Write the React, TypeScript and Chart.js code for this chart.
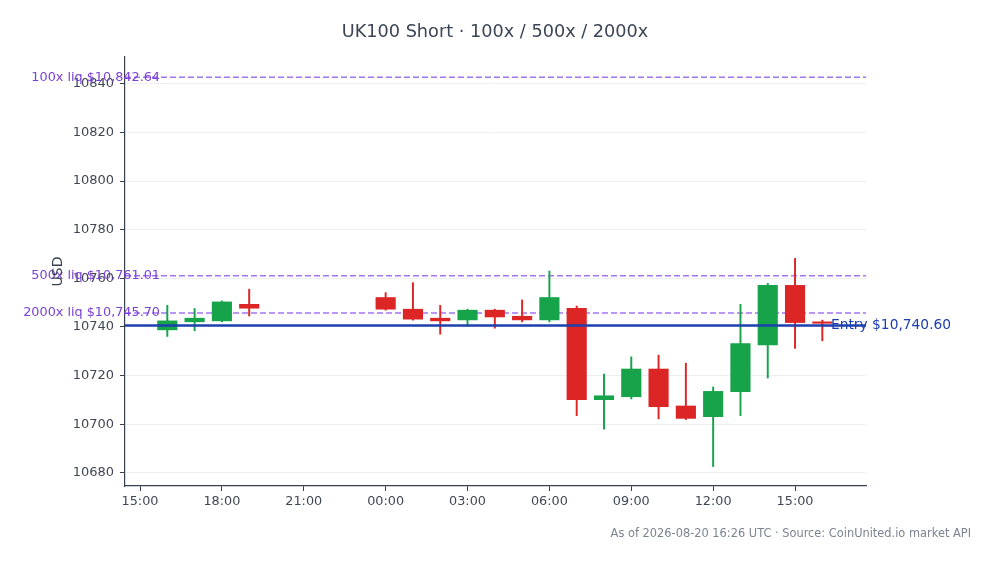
import { useEffect, useRef } from "react"
import { Chart, registerables } from "chart.js"

Chart.register(...registerables)

// hours since 2026-08-19 00:00 UTC
const hours = [16, 17, 18, 19, 24, 25, 26, 27, 28, 29, 30, 31, 32, 33, 34, 35, 36, 37, 38, 39, 40]
const opens = [10738.8, 10742.1, 10742.5, 10749.3, 10752.1, 10747.3, 10743.6, 10742.9, 10746.9, 10744.4, 10742.9, 10747.7, 10710.1, 10711.3, 10722.7, 10707.5, 10703.1, 10713.4, 10732.6, 10757.1, 10742.1]
const highs = [10748.9, 10747.6, 10750.7, 10755.5, 10754.1, 10758.2, 10748.9, 10747.3, 10747.3, 10751.1, 10763.0, 10748.6, 10720.6, 10727.7, 10728.4, 10725.1, 10715.3, 10749.3, 10757.9, 10768.2, 10742.8]
const lows = [10736.1, 10738.4, 10742.1, 10744.5, 10746.9, 10742.8, 10737.0, 10740.4, 10739.5, 10742.1, 10742.1, 10703.5, 10698.0, 10710.4, 10702.2, 10701.9, 10682.6, 10703.5, 10719.0, 10731.2, 10734.3]
const closes = [10742.5, 10743.6, 10750.3, 10747.7, 10747.3, 10743.2, 10742.5, 10746.9, 10744.1, 10742.9, 10752.1, 10710.1, 10711.7, 10722.7, 10707.2, 10702.4, 10713.5, 10733.2, 10757.1, 10741.8, 10741.5]

const entryPrice = 10740.6
const liqLabels = ["100x", "500x", "2000x"]
const liqPrices = [10842.64, 10761.01, 10745.7]

const yTicks = [10680, 10700, 10720, 10740, 10760, 10780, 10800, 10820, 10840]
const xTicks = [15, 18, 21, 24, 27, 30, 33, 36, 39]

const X_MIN = 14.45
const X_MAX = 41.6
const Y_MIN = 10674.6
const Y_MAX = 10851

const UP = "#16a34a"
const DOWN = "#dc2626"
const LIQ = "#7a3fd6"
const ENTRY = "#1e40af"
const FONT = "'DejaVu Sans', sans-serif"

const money = (v: number) =>
  "$" + v.toLocaleString("en-US", { minimumFractionDigits: 2, maximumFractionDigits: 2 })

const overlayText = {
  id: "overlayText",
  afterDatasetsDraw(chart: any) {
    const { ctx, chartArea, scales } = chart
    const y = scales.y
    ctx.save()
    ctx.textBaseline = "middle"

    // liquidation labels
    ctx.font = `12.8px ${FONT}`
    ctx.fillStyle = LIQ
    ctx.textAlign = "right"
    liqPrices.forEach((p, i) => {
      ctx.fillText(`${liqLabels[i]} liq ${money(p)}`, chartArea.left + 35, y.getPixelForValue(p))
    })

    // entry label
    ctx.font = `13.8px ${FONT}`
    ctx.fillStyle = ENTRY
    ctx.textAlign = "left"
    ctx.fillText(`Entry ${money(entryPrice)}`, chartArea.right - 35, y.getPixelForValue(entryPrice))
    ctx.restore()
  },
  afterDraw(chart: any) {
    const { ctx, chartArea } = chart
    ctx.save()
    ctx.textBaseline = "middle"
    ctx.textAlign = "center"
    ctx.font = `17.7px ${FONT}`
    ctx.fillStyle = "#3b4556"
    ctx.fillText("UK100 Short · 100x / 500x / 2000x", chart.width / 2 - 2, 32)

    ctx.font = `11.4px ${FONT}`
    ctx.fillStyle = "#7b8491"
    ctx.textAlign = "right"
    ctx.fillText("As of 2026-08-20 16:26 UTC · Source: CoinUnited.io market API", 971, 534)

    ctx.translate(58, (chartArea.top + chartArea.bottom) / 2)
    ctx.rotate(-Math.PI / 2)
    ctx.textAlign = "center"
    ctx.font = `14px ${FONT}`
    ctx.fillStyle = "#374151"
    ctx.fillText("USD", 0, 0)
    ctx.restore()
  },
}

export default function App() {
  const canvasRef = useRef<HTMLCanvasElement>(null)
  const chartRef = useRef<Chart | null>(null)

  useEffect(() => {
    document.body.style.margin = "0"
    if (!canvasRef.current) return
    if (chartRef.current) chartRef.current.destroy()

    const colors = hours.map((_, i) => (closes[i] >= opens[i] ? UP : DOWN))
    const hline = (v: number) => [
      { x: X_MIN, y: v },
      { x: X_MAX, y: v },
    ]

    chartRef.current = new Chart(canvasRef.current, {
      type: "bar",
      data: {
        datasets: [
          {
            type: "line",
            label: "Entry",
            data: hline(entryPrice),
            borderColor: ENTRY,
            borderWidth: 2.5,
            pointRadius: 0,
            order: 0,
          },
          {
            label: "Body",
            data: hours.map((h, i) => ({ x: h, y: [opens[i], closes[i]] })),
            backgroundColor: colors,
            borderWidth: 0,
            barThickness: 19.5,
            grouped: false,
            order: 1,
          },
          {
            label: "Wick",
            data: hours.map((h, i) => ({ x: h, y: [lows[i], highs[i]] })),
            backgroundColor: colors,
            borderWidth: 0,
            barThickness: 1.3,
            grouped: false,
            order: 2,
          },
          ...liqPrices.map((p, i) => ({
            type: "line" as const,
            label: `${liqLabels[i]} liq`,
            data: hline(p),
            borderColor: "rgba(124,58,237,0.7)",
            borderWidth: 1.5,
            borderDash: [6, 3],
            pointRadius: 0,
            order: 3,
          })),
        ] as any,
      },
      options: {
        responsive: false,
        animation: false,
        events: [],
        layout: { padding: { left: 0, right: 128, top: 57, bottom: 48 } },
        plugins: {
          legend: { display: false },
          title: { display: false },
          tooltip: { enabled: false },
        },
        scales: {
          x: {
            type: "linear",
            min: X_MIN,
            max: X_MAX,
            offset: false,
            afterFit: (s: any) => {
              s.height = 30
            },
            afterBuildTicks: (s: any) => {
              s.ticks = xTicks.map((v) => ({ value: v }))
            },
            grid: {
              offset: false,
              drawOnChartArea: false,
              drawTicks: true,
              tickLength: 5,
              tickColor: "#374151",
            },
            border: { display: true, color: "#374151", width: 1.2 },
            ticks: {
              color: "#3f4754",
              padding: 3,
              font: { family: FONT, size: 12.8 },
              maxRotation: 0,
              callback: (v: any) => `${String(Number(v) % 24).padStart(2, "0")}:00`,
            },
          },
          y: {
            type: "linear",
            min: Y_MIN,
            max: Y_MAX,
            afterFit: (s: any) => {
              s.width = 125
            },
            afterBuildTicks: (s: any) => {
              s.ticks = yTicks.map((v) => ({ value: v }))
            },
            grid: {
              color: "#eceef1",
              drawTicks: true,
              tickLength: 5,
              tickColor: "#374151",
            },
            border: { display: true, color: "#374151", width: 1.2 },
            ticks: {
              color: "#3f4754",
              padding: 6,
              font: { family: FONT, size: 13 },
              callback: (v: any) => String(v),
            },
          },
        },
      },
      plugins: [overlayText],
    })

    return () => {
      if (chartRef.current) {
        chartRef.current.destroy()
        chartRef.current = null
      }
    }
  }, [])

  return (
    <div style={{ width: 994, height: 564, background: "#ffffff" }}>
      <canvas ref={canvasRef} width={994} height={564} />
    </div>
  )
}
